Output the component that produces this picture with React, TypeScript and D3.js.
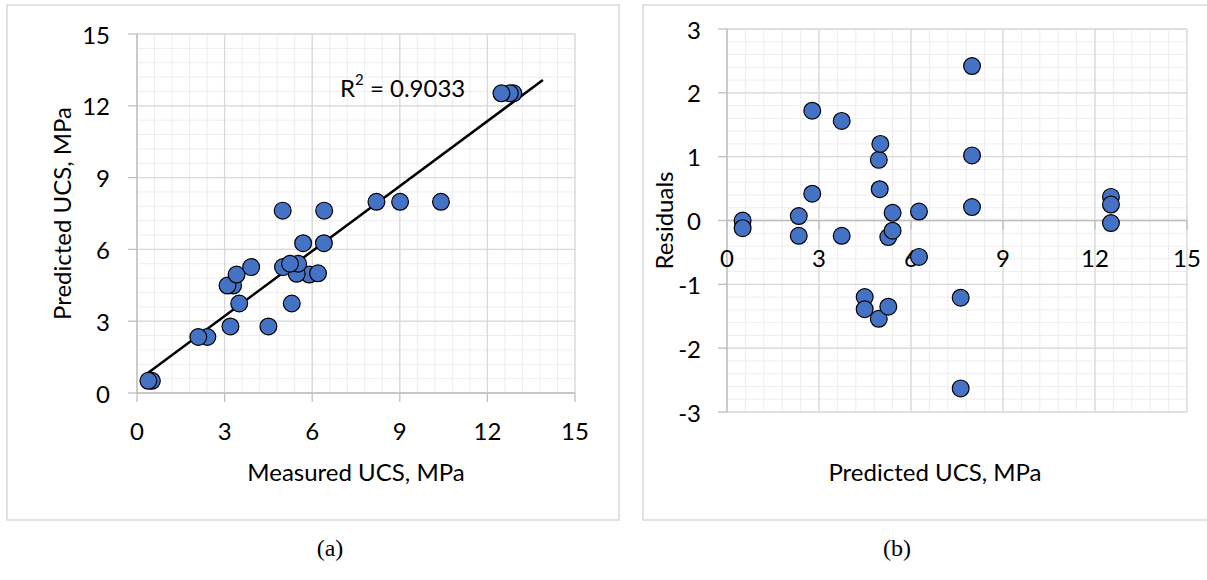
import * as d3 from "d3";

// measured vs predicted UCS (MPa), residual = measured - predicted
const measured = [0.51, 0.39, 2.41, 2.1, 4.5, 3.2, 5.3, 3.5, 3.29, 3.1, 5.9, 3.41, 6.2, 5.47, 5.0, 3.91, 5.52, 5.24, 6.4, 5.69, 6.41, 4.99, 10.41, 9.01, 8.2, 12.89, 12.77, 12.48];
const predicted = [0.51, 0.51, 2.34, 2.34, 2.78, 2.78, 3.74, 3.74, 4.49, 4.49, 4.95, 4.95, 5.0, 4.98, 5.26, 5.26, 5.4, 5.4, 6.26, 6.26, 7.62, 7.62, 7.99, 7.99, 7.99, 12.52, 12.52, 12.52];
const residuals = [0.0, -0.12, 0.07, -0.24, 1.72, 0.42, 1.56, -0.24, -1.2, -1.39, 0.95, -1.54, 1.2, 0.49, -0.26, -1.35, 0.12, -0.16, 0.14, -0.57, -1.21, -2.63, 2.42, 1.02, 0.21, 0.37, 0.25, -0.04];

const ucsTicks = [0, 3, 6, 9, 12, 15];
const residualTicks = [-3, -2, -1, 0, 1, 2, 3];

// linear trend line shown on panel (a)
const trendRange = [0.35, 13.9];
const trendSlope = 0.905;
const trendIntercept = 0.5;
const r2Text = "0.9033";

const FONT = "Lato, 'Open Sans', sans-serif";
const MAJOR = "#d9d9d9";
const MINOR = "#ededed";
const AXIS = "#bfbfbf";
const FILL = "#4472c4";

type PanelProps = {
  frame: [number, number, number, number];
  xs: d3.ScaleLinear<number, number>;
  ys: d3.ScaleLinear<number, number>;
  xTicks: number[];
  yTicks: number[];
  xMinor: number;
  yMinor: number;
  xs0: number[];
  ys0: number[];
  xTitle: string;
  xTitleX: number;
  yTitle: string;
  yTitleX: number;
  yLabelX: number;
  children?: any;
};

function Panel(p: PanelProps) {
  const [x0, x1] = p.xs.range();
  const [yb, yt] = p.ys.range();
  const [dx0, dx1] = p.xs.domain();
  const [dy0, dy1] = p.ys.domain();
  const xMinor = d3.range(dx0, dx1 + 1e-6, p.xMinor);
  const yMinor = d3.range(dy0, dy1 + 1e-6, p.yMinor);
  const axisY = p.ys(0);
  return (
    <g>
      <rect x={p.frame[0]} y={p.frame[1]} width={p.frame[2]} height={p.frame[3]} fill="#fff" stroke={MAJOR} strokeWidth={1.5} />
      {xMinor.map((v, i) => (
        <line key={"xm" + i} x1={p.xs(v)} x2={p.xs(v)} y1={yt} y2={yb} stroke={MINOR} strokeWidth={1} />
      ))}
      {yMinor.map((v, i) => (
        <line key={"ym" + i} x1={x0} x2={x1} y1={p.ys(v)} y2={p.ys(v)} stroke={MINOR} strokeWidth={1} />
      ))}
      {p.xTicks.map((v) => (
        <line key={"xM" + v} x1={p.xs(v)} x2={p.xs(v)} y1={yt} y2={yb} stroke={MAJOR} strokeWidth={1.3} />
      ))}
      {p.yTicks.map((v) => (
        <line key={"yM" + v} x1={x0} x2={x1} y1={p.ys(v)} y2={p.ys(v)} stroke={MAJOR} strokeWidth={1.3} />
      ))}
      {/* axes */}
      <line x1={x0} x2={x1} y1={axisY} y2={axisY} stroke={AXIS} strokeWidth={1.3} />
      <line x1={x0} x2={x0} y1={yt} y2={yb} stroke={AXIS} strokeWidth={1.3} />
      {p.xTicks.map((v) => (
        <line key={"xt" + v} x1={p.xs(v)} x2={p.xs(v)} y1={axisY} y2={axisY + 9} stroke={AXIS} strokeWidth={1.3} />
      ))}
      {p.yTicks.map((v) => (
        <line key={"yt" + v} x1={x0 - 9} x2={x0} y1={p.ys(v)} y2={p.ys(v)} stroke={AXIS} strokeWidth={1.3} />
      ))}
      {p.xTicks.map((v) => (
        <text key={"xl" + v} x={p.xs(v)} y={axisY + 37} textAnchor="middle" dominantBaseline="central" fontFamily={FONT} fontSize={24}>
          {v}
        </text>
      ))}
      {p.yTicks.map((v) => (
        <text key={"yl" + v} x={p.yLabelX} y={p.ys(v)} textAnchor="end" dominantBaseline="central" fontFamily={FONT} fontSize={24}>
          {v}
        </text>
      ))}
      {p.children}
      {p.xs0.map((v, i) => (
        <circle key={"pt" + i} cx={p.xs(v)} cy={p.ys(p.ys0[i])} r={8.4} fill={FILL} stroke="#000" strokeWidth={1.2} />
      ))}
      <text x={p.xTitleX} y={471} textAnchor="middle" dominantBaseline="central" fontFamily={FONT} fontSize={24}>
        {p.xTitle}
      </text>
      <text
        transform={`translate(${p.yTitleX},${(yt + yb) / 2}) rotate(-90)`}
        textAnchor="middle"
        dominantBaseline="central"
        fontFamily={FONT}
        fontSize={24}
      >
        {p.yTitle}
      </text>
    </g>
  );
}

export default function App() {
  const xa = d3.scaleLinear().domain([0, 15]).range([137, 575]);
  const ya = d3.scaleLinear().domain([0, 15]).range([393, 34]);
  const xb = d3.scaleLinear().domain([0, 15]).range([727, 1187]);
  const yb = d3.scaleLinear().domain([-3, 3]).range([412, 29]);

  const trend = d3
    .line<number>()
    .x((d) => xa(d))
    .y((d) => ya(trendSlope * d + trendIntercept));

  return (
    <div style={{ position: "absolute", left: 0, top: 0 }}>
      <svg width={1207} height={580} style={{ display: "block", background: "#fff" }}>
        <Panel
          frame={[7, 5, 612, 515]}
          xs={xa}
          ys={ya}
          xTicks={ucsTicks}
          yTicks={ucsTicks}
          xMinor={0.6}
          yMinor={0.6}
          xs0={measured}
          ys0={predicted}
          xTitle="Measured UCS, MPa"
          xTitleX={356}
          yTitle="Predicted UCS, MPa"
          yTitleX={61}
          yLabelX={110}
        >
          <path d={trend(trendRange) || ""} fill="none" stroke="#000" strokeWidth={2.5} />
          <text x={340} y={87} dominantBaseline="central" fontFamily={FONT} fontSize={24}>
            R<tspan fontSize={15} dy={-8}>2</tspan>
            <tspan dy={8}> = {r2Text}</tspan>
          </text>
        </Panel>
        <Panel
          frame={[643, 5, 600, 515]}
          xs={xb}
          ys={yb}
          xTicks={ucsTicks}
          yTicks={residualTicks}
          xMinor={0.6}
          yMinor={0.2}
          xs0={predicted}
          ys0={residuals}
          xTitle="Predicted UCS, MPa"
          xTitleX={935}
          yTitle="Residuals"
          yTitleX={663}
          yLabelX={701}
        />
        <text x={330} y={548} textAnchor="middle" dominantBaseline="central" fontFamily="'Liberation Serif', serif" fontSize={24}>
          (a)
        </text>
        <text x={897} y={548} textAnchor="middle" dominantBaseline="central" fontFamily="'Liberation Serif', serif" fontSize={24}>
          (b)
        </text>
      </svg>
    </div>
  );
}
